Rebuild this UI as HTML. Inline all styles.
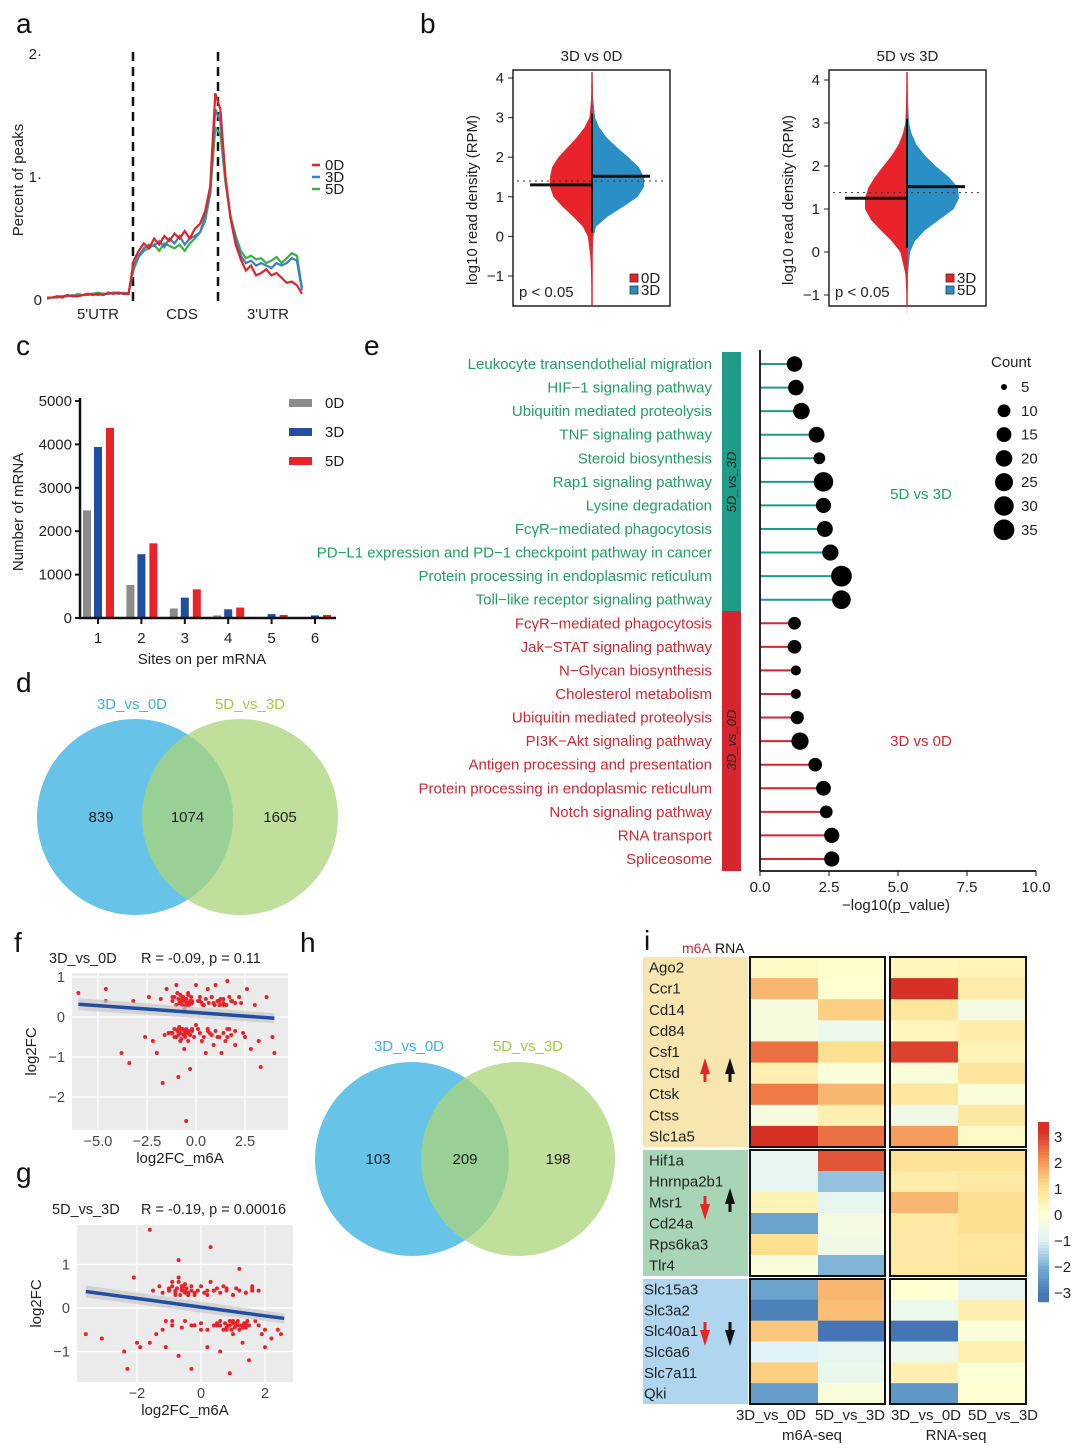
<!DOCTYPE html>
<html><head><meta charset="utf-8">
<style>
html,body{margin:0;padding:0;background:#fff;}
svg{display:block;font-family:"Liberation Sans",Arial,sans-serif;}
</style></head>
<body>
<svg id="fig" width="1080" height="1449" viewBox="0 0 1080 1449" xmlns="http://www.w3.org/2000/svg">
<g id="root"></g>
</svg>
<script>
// ---------- DATA ----------
const aRed=[0.02,0.02,0.03,0.02,0.04,0.03,0.03,0.04,0.05,0.04,0.05,0.04,0.06,0.05,0.06,0.05,0.05,0.32,0.4,0.46,0.42,0.5,0.45,0.52,0.48,0.54,0.5,0.56,0.5,0.58,0.62,0.72,0.92,1.68,1.55,1.0,0.66,0.45,0.33,0.24,0.28,0.2,0.22,0.25,0.2,0.22,0.18,0.14,0.15,0.12,0.05];
const aBlue=[0.02,0.02,0.02,0.03,0.03,0.04,0.03,0.04,0.04,0.05,0.04,0.05,0.05,0.06,0.05,0.06,0.05,0.28,0.36,0.42,0.45,0.44,0.48,0.43,0.5,0.46,0.52,0.45,0.5,0.52,0.55,0.68,0.88,1.55,1.45,0.98,0.66,0.5,0.36,0.3,0.32,0.28,0.3,0.28,0.26,0.3,0.28,0.3,0.34,0.32,0.08];
const aGreen=[0.01,0.02,0.03,0.03,0.04,0.03,0.05,0.04,0.05,0.05,0.06,0.05,0.05,0.06,0.06,0.05,0.06,0.25,0.35,0.4,0.42,0.45,0.4,0.46,0.44,0.42,0.45,0.4,0.46,0.5,0.55,0.64,0.86,1.4,1.35,0.95,0.68,0.52,0.4,0.34,0.36,0.33,0.34,0.3,0.32,0.35,0.3,0.34,0.38,0.36,0.1];
const vY=[-1.5,-1,-0.5,0,0.25,0.5,0.75,1,1.25,1.5,1.75,2,2.25,2.5,2.75,3,3.5,4];
const vL_red=[0.01,0.02,0.04,0.1,0.22,0.45,0.7,0.92,1.0,1.0,0.95,0.8,0.58,0.36,0.18,0.06,0.02,0.01];
const vL_blue=[0,0,0.01,0.03,0.08,0.3,0.6,0.88,1.0,1.0,0.9,0.7,0.48,0.28,0.14,0.06,0.02,0.01];
const vR_red=[0,0.01,0.04,0.16,0.36,0.62,0.86,1.0,1.0,0.92,0.76,0.56,0.36,0.2,0.1,0.04,0.02,0.01];
const vR_blue=[0,0.01,0.02,0.06,0.15,0.34,0.62,0.9,1.0,0.98,0.8,0.55,0.34,0.18,0.09,0.04,0.02,0.01];
const bMedL=[1.3,1.52], bMedR=[1.25,1.52], bRef=[1.4,1.38];
const cCats=["1","2","3","4","5","6"];
const c0D=[2480,760,220,60,10,10];
const c3D=[3940,1470,470,200,90,60];
const c5D=[4380,1720,660,240,70,70];
const cTicks=[0,1000,2000,3000,4000,5000];
const dVals=[839,1074,1605];
const hVals=[103,209,198];
const eTerms5=["Leukocyte transendothelial migration","HIF\u22121 signaling pathway","Ubiquitin mediated proteolysis","TNF signaling pathway","Steroid biosynthesis","Rap1 signaling pathway","Lysine degradation","Fc\u03b3R\u2212mediated phagocytosis","PD\u2212L1 expression and PD\u22121 checkpoint pathway in cancer","Protein processing in endoplasmic reticulum","Toll\u2212like receptor signaling pathway"];
const eVal5=[1.25,1.3,1.5,2.05,2.15,2.3,2.3,2.35,2.55,2.95,2.95];
const eCnt5=[17,17,20,18,8,30,16,18,19,35,27];
const eTerms3=["Fc\u03b3R\u2212mediated phagocytosis","Jak\u2212STAT signaling pathway","N\u2212Glycan biosynthesis","Cholesterol metabolism","Ubiquitin mediated proteolysis","PI3K\u2212Akt signaling pathway","Antigen processing and presentation","Protein processing in endoplasmic reticulum","Notch signaling pathway","RNA transport","Spliceosome"];
const eVal3=[1.25,1.25,1.3,1.3,1.35,1.45,2.0,2.3,2.4,2.6,2.6];
const eCnt3=[10,12,5,5,11,22,12,15,10,16,16];
const eTicks=[0,2.5,5,7.5,10];
const eLegCnt=[5,10,15,20,25,30,35];
// panel f scatter
const fX=[-6,-4.6,-4.6,-3.8,-3.4,-3.2,-2.6,-2.4,-2.2,-2.0,-1.8,-1.7,-1.5,-1.4,-1.2,-1.1,-1.0,-0.9,-0.8,-0.8,-0.7,-0.6,-0.5,-0.5,-0.4,-0.3,-0.2,-0.1,0,0.1,0.2,0.3,0.4,0.5,0.6,0.7,0.8,0.9,1.0,1.1,1.2,1.3,1.4,1.5,1.6,1.7,1.8,2.0,2.2,2.4,2.6,2.8,3.0,3.3,3.6,3.9,4.0,-1.0,-0.7,-0.6,-0.4,-0.2,0.1,-1.6,-1.3,-1.0,-0.8,-0.6,-0.4,-0.9,-0.5,0.3,0.9,1.4,-0.3,-0.8,0.6,1.2,1.6,2.3,0.0,
 -1.2,-1.1,-1.0,-0.95,-0.9,-0.85,-0.8,-0.75,-0.7,-0.65,-0.6,-0.55,-0.5,-0.45,-0.4,-0.35,-0.3,-0.25,-0.2,0.2,0.35,0.5,0.65,0.8,0.95,1.1,1.25,1.4,1.55,1.7,1.85,2.0,
 -1.2,-1.1,-1.0,-0.95,-0.9,-0.85,-0.8,-0.75,-0.7,-0.65,-0.6,-0.55,-0.5,-0.45,-0.4,-0.35,-0.3,-0.2,0.2,0.4,0.6,0.8,1.0,1.2,1.4,1.6,1.8,2.0,2.5,3.2];
const fY=[0.6,0.7,0.4,-0.9,-1.15,0.4,-0.5,0.5,-0.6,-0.9,0.45,-1.65,0.7,-0.4,0.5,-0.5,0.8,-0.3,0.4,-0.6,0.5,-0.8,0.3,-0.4,0.6,-1.3,0.4,-0.5,0.8,-0.3,0.5,-0.6,0.3,-0.9,0.7,-0.4,0.5,-0.7,0.8,-0.5,0.4,-0.9,0.3,-0.6,0.9,-0.3,0.4,-0.7,0.5,-0.4,0.7,-0.8,0.3,-1.25,0.5,-0.5,-0.9,0.3,0.45,0.2,0.35,-0.35,0.4,-0.45,-0.4,-0.5,-0.3,-0.45,-0.35,-1.5,-2.6,0.35,0.35,0.45,-0.45,0.4,-0.35,0.3,-0.5,0.35,-0.2,
 0.4,0.5,0.3,0.6,0.45,0.35,0.55,0.4,0.3,0.5,0.4,0.25,0.45,0.35,0.55,0.3,0.4,0.5,0.35,0.4,0.3,0.45,0.35,0.5,0.3,0.4,0.45,0.35,0.3,0.5,0.4,0.35,
 -0.4,-0.3,-0.5,-0.35,-0.45,-0.25,-0.4,-0.55,-0.3,-0.45,-0.35,-0.5,-0.3,-0.4,-0.6,-0.35,-0.45,-0.3,-0.4,-0.5,-0.3,-0.45,-0.35,-0.5,-0.4,-0.3,-0.45,-0.35,-0.5,-0.6];
const fLine=[0.11,-0.035];
// panel g scatter
const gX=[-3.6,-3.1,-2.4,-2.3,-2.1,-2.0,-1.9,-1.6,-1.6,-1.5,-1.4,-1.3,-1.2,-1.1,-1.0,-0.9,-0.9,-0.8,-0.7,-0.7,-0.6,-0.5,-0.5,-0.4,-0.3,-0.3,-0.2,-0.1,0.0,0.1,0.2,0.3,0.3,0.4,0.5,0.6,0.7,0.8,0.8,0.9,1.0,1.0,1.1,1.2,1.2,1.3,1.4,1.4,1.5,1.6,1.7,1.8,1.9,2.0,2.2,2.4,2.5,-1.2,-1.0,-0.8,-0.6,-0.4,0.5,0.9,1.1,1.3,-0.6,-0.5,-0.2,0.6,0.8,1.4,1.6,-0.7,0.4,1.0,-1.1,0.2,
 -1.0,-0.9,-0.8,-0.75,-0.7,-0.65,-0.6,-0.55,-0.5,-0.45,-0.4,-0.3,-0.2,0.0,0.2,0.4,0.6,0.8,1.0,1.2,1.4,1.6,
 0.5,0.6,0.7,0.75,0.8,0.85,0.9,0.95,1.0,1.05,1.1,1.15,1.2,1.3,1.35,1.4,1.45,1.5,0.2,0.0,-0.3,-0.6,-0.9,1.8,2.0];
const gY=[-0.6,-0.7,-1.0,-1.4,0.7,-0.8,-0.9,-0.8,1.8,0.4,-0.6,0.5,-0.5,-0.9,0.45,0.6,-0.4,0.4,1.1,-1.1,0.5,0.4,-0.3,0.3,-1.4,0.5,-0.4,0.4,-0.5,0.35,-0.9,0.6,1.4,-0.4,0.45,-1.0,0.5,-0.5,0.4,-1.5,0.3,-0.6,0.45,-0.4,0.9,-0.8,0.35,-0.4,-1.2,0.5,-0.3,0.4,-0.6,-0.9,-0.7,-0.5,-0.6,0.35,0.4,0.3,0.5,0.35,-0.35,-0.4,-0.35,-0.45,0.45,0.55,0.3,-0.4,-0.45,-0.35,0.4,0.7,0.4,-0.3,-0.3,0.4,
 0.4,0.5,0.35,0.45,0.6,0.3,0.4,0.5,0.35,0.45,0.3,0.4,0.35,0.5,0.3,0.4,0.35,0.45,0.3,0.4,0.35,0.45,
 -0.4,-0.3,-0.5,-0.35,-0.45,-0.4,-0.3,-0.5,-0.35,-0.45,-0.4,-0.3,-0.5,-0.4,-0.35,-0.45,-0.3,-0.4,-0.5,-0.35,-0.4,-0.45,-0.3,-0.4,-0.5];
const gLine=[0.02,-0.1];
// panel i heatmap
const iGenes=["Ago2","Ccr1","Cd14","Cd84","Csf1","Ctsd","Ctsk","Ctss","Slc1a5","Hif1a","Hnrnpa2b1","Msr1","Cd24a","Rps6ka3","Tlr4","Slc15a3","Slc3a2","Slc40a1","Slc6a6","Slc7a11","Qki"];
const iM6A_3v0=[0.2,1.5,-0.3,-0.3,2.3,0.5,2.2,-0.3,3.3,-0.8,-0.8,0.4,-2.2,1.0,-0.2,-2.2,-2.8,1.3,-1.0,1.2,-2.3];
const iM6A_5v3=[0.1,0,1.2,-0.6,1.0,-0.2,1.5,0.5,2.3,2.6,-1.7,-0.8,-0.4,-0.5,-1.9,1.5,1.4,-3.0,-0.8,-0.7,-0.2];
const iRNA_3v0=[0.3,3.3,0.8,0.3,2.8,-0.2,0.8,-0.5,1.8,0.9,0.6,1.5,0.7,0.7,0.7,0.0,-0.6,-3.0,-0.6,0.5,-2.4];
const iRNA_5v3=[0.4,0.6,-0.4,0.6,0.4,0.8,-0.2,0.7,0.2,0.9,0.7,1.0,1.0,0.8,0.8,-0.8,0.5,-0.2,0.5,-0.1,0.0];
const iTicks=[3,2,1,0,-1,-2,-3];

// ---------- HELPERS ----------
const NS="http://www.w3.org/2000/svg";
const root=document.getElementById('root');
function mk(tag,attrs,parent,txt){const e=document.createElementNS(NS,tag);for(const k in attrs)e.setAttribute(k,attrs[k]);if(txt!==undefined)e.textContent=txt;(parent||root).appendChild(e);return e;}
function T(x,y,s,size,fill,anchor,parent,extra){return mk('text',Object.assign({x:x,y:y,'font-size':size,fill:fill||'#222','text-anchor':anchor||'start'},extra||{}),parent,s);}
function G(name){const g=mk('g',{});return g;}

[["a",16,33],["b",420,33],["c",16,355],["e",364,355],["d",16,692],["f",14,952],["g",16,1182],["h",300,952],["i",644,950]].forEach(p=>{
 const t=T(p[1],p[2],p[0],28,'#111','start');
});

// ---------- PANEL A ----------
(function(){
 const g=G('panel-a-metagene');
 const x0=47,x1=302,y0=300,yTop=54;
 const sx=i=>x0+(x1-x0)*i/50, sy=v=>y0-(y0-yTop)*v/2;
 [[0,'0'],[1,'1'],[2,'2']].forEach(t=>{const e=T(42,sy(t[0])+5,t[1]+(t[0]?'·':''),15,'#222','end',g);});
 const yl=T(0,0,'Percent of peaks',15,'#222','middle',g,{transform:'translate(23,180) rotate(-90)'});
 
 [133,218].forEach(x=>{const l=mk('line',{x1:x,x2:x,y1:52,y2:302,stroke:'#111','stroke-width':2.5,'stroke-dasharray':'9,6'},g);});
 [[aGreen,'#3cae48'],[aBlue,'#3a7fc1'],[aRed,'#e0242a']].forEach(s=>{
   const p=mk('polyline',{points:s[0].map((v,i)=>sx(i)+','+sy(v)).join(' '),fill:'none',stroke:s[1],'stroke-width':2.2},g);
   
 });
 [['5\'UTR',98],['CDS',182],['3\'UTR',268]].forEach(t=>{const e=T(t[1],319,t[0],15,'#222','middle',g);});
 [['0D','#e0242a',170],['3D','#3a7fc1',182],['5D','#3cae48',194]].forEach(t=>{
   const l=mk('line',{x1:312,x2:320,y1:t[2]-5,y2:t[2]-5,stroke:t[1],'stroke-width':2.5},g);
   const e=T(325,t[2],t[0],15,'#222','start',g);
 });
})();

// ---------- PANEL B ----------
function violin(name,bx0,bx1,cx,yAt,ticks,title,left,right,med,ref,labs){
 const g=G(name);
 const sy=v=>yAt[0]+(yAt[1]-yAt[0])*(v-(-1))/(4-(-1));
 const t=T((bx0+bx1)/2,61,title,15,'#222','middle',g);
 const box=mk('rect',{x:bx0,y:70,width:bx1-bx0,height:236,fill:'none',stroke:'#222','stroke-width':1.5},g);
 ticks.forEach(v=>{mk('line',{x1:bx0-5,x2:bx0,y1:sy(v),y2:sy(v),stroke:'#222'},g);
  const e=T(bx0-9,sy(v)+5,v<0?'\u22121':String(v),15,'#222','end',g);});
 const yl=T(0,0,'log10 read density (RPM)',15,'#222','middle',g,{transform:`translate(${bx0-36},200) rotate(-90)`});
 
 const W=42;
 const lp=vY.map((y,i)=>(cx-left[i]*W)+','+sy(y)).join(' ');
 const rp=vY.map((y,i)=>(cx+right[i]*(W+10))+','+sy(y)).join(' ');
 const a=mk('polygon',{points:cx+','+sy(vY[0])+' '+lp+' '+cx+','+sy(vY[vY.length-1]),fill:'#e8232a'},g);
 const b=mk('polygon',{points:cx+','+sy(vY[0])+' '+rp+' '+cx+','+sy(vY[vY.length-1]),fill:'#2a8fc4'},g);
 mk('line',{x1:cx,x2:cx,y1:72,y2:306,stroke:'#e8232a','stroke-width':1.5},g);
 mk('line',{x1:cx,x2:cx,y1:sy(0.1),y2:sy(3.1),stroke:'#111','stroke-width':2},g);
 const r=mk('line',{x1:bx0+4,x2:bx1-4,y1:sy(ref),y2:sy(ref),stroke:'#333','stroke-dasharray':'2,4'},g);
 const m1=mk('line',{x1:cx-62,x2:cx,y1:sy(med[0]),y2:sy(med[0]),stroke:'#111','stroke-width':3},g);
 const m2=mk('line',{x1:cx,x2:cx+58,y1:sy(med[1]),y2:sy(med[1]),stroke:'#111','stroke-width':3},g);
 const p=T(bx0+6,297,'p < 0.05',15,'#222','start',g);
 [[labs[0],'#e8232a',282],[labs[1],'#2a8fc4',294]].forEach(l=>{
  const s=mk('rect',{x:bx1-40,y:l[2]-8,width:8,height:8,fill:l[1],stroke:'#333','stroke-width':0.8},g);
  const e=T(bx1-29,l[2]+1,l[0],15,'#222','start',g);
 });
}
violin('panel-b-3d-vs-0d',513,670,592,[276,78],[-1,0,1,2,3,4],'3D vs 0D',vL_red,vL_blue,bMedL,bRef[0],['0D','3D']);
violin('panel-b-5d-vs-3d',829,986,907,[295,80],[-1,0,1,2,3,4],'5D vs 3D',vR_red,vR_blue,bMedR,bRef[1],['3D','5D']);

// ---------- PANEL C ----------
(function(){
 const g=G('panel-c-bar-chart');
 const ax=80,y0=618,yT=401;const sy=v=>y0-(y0-yT)*v/5000;
 const gx=i=>98+i*43.4;
 cTicks.forEach(v=>{mk('line',{x1:ax-5,x2:ax,y1:sy(v),y2:sy(v),stroke:'#111','stroke-width':2},g);
  const e=T(ax-8,sy(v)+5,String(v),15,'#222','end',g);});
 [[c0D,'#8c8c8c',-11],[c3D,'#1f4ea3',0],[c5D,'#e8232a',12]].forEach(s=>{
  s[0].forEach((v,i)=>{const r=mk('rect',{x:gx(i)+s[2]-4,y:sy(v),width:8,height:y0-sy(v),fill:s[1]},g);
   });
 });
 mk('line',{x1:ax,x2:ax,y1:398,y2:y0+1,stroke:'#111','stroke-width':2.5},g);
 mk('line',{x1:ax-1,x2:336,y1:y0,y2:y0,stroke:'#111','stroke-width':2.5},g);
 cCats.forEach((c,i)=>{mk('line',{x1:gx(i),x2:gx(i),y1:y0,y2:y0+6,stroke:'#111','stroke-width':2},g);
  const e=T(gx(i),643,c,15,'#222','middle',g);});
 const xt=T(202,664,'Sites on per mRNA',15,'#222','middle',g);
 const yt=T(0,0,'Number of mRNA',15,'#222','middle',g,{transform:'translate(23,512) rotate(-90)'});
 [['0D','#8c8c8c',403],['3D','#1f4ea3',432],['5D','#e8232a',461]].forEach(l=>{
  const s=mk('rect',{x:289,y:l[2]-4,width:23,height:8,fill:l[1]},g);
  const e=T(325,l[2]+5,l[0],15,'#222','start',g);});
})();

// ---------- VENNS ----------
function venn(name,c1,c2,r,vals,ly){
 const g=G(name);
 const a=mk('circle',{cx:c1[0],cy:c1[1],r:r,fill:'#4db8e4','fill-opacity':0.85},g);
 const b=mk('circle',{cx:c2[0],cy:c2[1],r:r,fill:'#a9d47a','fill-opacity':0.75},g);
 const t1=T(c1[0]-3,ly,'3D_vs_0D',15,'#3ab0e0','middle',g);
 const t2=T(c2[0]+10,ly,'5D_vs_3D',15,'#a6c940','middle',g);
 const mx=(c1[0]+c2[0])/2;
 [[c1[0]-34,vals[0]],[mx,vals[1]],[c2[0]+40,vals[2]]].forEach(v=>{const e=T(v[0],c1[1]+5,String(v[1]),15,'#222','middle',g);});
}
venn('panel-d-venn',[135,817],[240,817],98,dVals,709);
venn('panel-h-venn',[412,1159],[518,1159],97,hVals,1051);

// ---------- PANEL E ----------
(function(){
 const g=G('panel-e-lollipop');
 const ax=760,sx=v=>ax+v*27.6;
 const rowY=i=>364+i*23.57;
 const rad=c=>1.8+Math.sqrt(c)*1.45;
 const gb=mk('rect',{x:722,y:352,width:19,height:259,fill:'#1f9c88'},g);
 const rb=mk('rect',{x:722,y:611,width:19,height:260,fill:'#d7252f'},g);
 T(0,0,'5D_vs_3D',13,'#222','middle',g,{transform:'translate(736,482) rotate(-90)','font-style':'italic'});
 T(0,0,'3D_vs_0D',13,'#222','middle',g,{transform:'translate(736,740) rotate(-90)','font-style':'italic'});
 const all=eTerms5.map((t,i)=>[t,eVal5[i],eCnt5[i],'#1f9c88','#21a063']).concat(eTerms3.map((t,i)=>[t,eVal3[i],eCnt3[i],'#d7252f','#d7252f']));
 all.forEach((d,i)=>{
  const y=rowY(i);
  const e=T(712,y+5,d[0],15,d[4],'end',g);
  const l=mk('line',{x1:ax,x2:sx(d[1]),y1:y,y2:y,stroke:d[3],'stroke-width':2},g);
  const c=mk('circle',{cx:sx(d[1]),cy:y,r:rad(d[2]),fill:'#000'},g);
 });
 mk('line',{x1:ax,x2:ax,y1:350,y2:871,stroke:'#111','stroke-width':1.8},g);
 mk('line',{x1:ax,x2:sx(10),y1:871,y2:871,stroke:'#111','stroke-width':1.8},g);
 eTicks.forEach(v=>{mk('line',{x1:sx(v),x2:sx(v),y1:871,y2:876,stroke:'#111'},g);
  const e=T(sx(v),892,v.toFixed(1),15,'#222','middle',g);});
 const xt=T(896,910,'\u2212log10(p_value)',15,'#222','middle',g);
 const s1=T(921,499,'5D vs 3D',15,'#21a063','middle',g);
 const s2=T(921,746,'3D vs 0D',15,'#d7252f','middle',g);
 const lt=T(1011,367,'Count',15,'#222','middle',g);
 eLegCnt.forEach((c,i)=>{const y=387+i*23.8;
  const d=mk('circle',{cx:1004,cy:y,r:rad(c)*(c===5?0.6:1),fill:'#000'},g);
  const e=T(1021,y+5,String(c),15,'#222','start',g);});
})();

// ---------- PANELS F, G ----------
function scatter(name,box,xTicks,yTicks,xMap,yMap,xs,ys,line,xr,title,stat,dec){
 const g=G(name);
 const bg=mk('rect',{x:box[0],y:box[1],width:box[2]-box[0],height:box[3]-box[1],fill:'#ebebeb'},g);
 xTicks.forEach(v=>mk('line',{x1:xMap(v),x2:xMap(v),y1:box[1],y2:box[3],stroke:'#fff','stroke-width':1.2},g));
 yTicks.forEach(v=>mk('line',{x1:box[0],x2:box[2],y1:yMap(v),y2:yMap(v),stroke:'#fff','stroke-width':1.2},g));
 xTicks.forEach(v=>{const s=Math.abs(v).toFixed(dec);const e=T(xMap(v),box[3]+16,(v<0?'\u2212':'')+s,14.5,'#444','middle',g);});
 yTicks.forEach(v=>{const e=T(box[0]-7,yMap(v)+5,v<0?'\u2212'+Math.abs(v):String(v),14.5,'#444','end',g);});
 xs.forEach((x,i)=>{const c=mk('circle',{cx:xMap(x),cy:yMap(ys[i]),r:2,fill:'#e8232a'},g);});
 const yA=line[0]+line[1]*xr[0],yB=line[0]+line[1]*xr[1];
 mk('polygon',{points:`${xMap(xr[0])},${yMap(yA)-6} ${xMap(xr[1])},${yMap(yB)-5} ${xMap(xr[1])},${yMap(yB)+5} ${xMap(xr[0])},${yMap(yA)+6}`,fill:'#c8c8c8','fill-opacity':0.7},g);
 const rl=mk('line',{x1:xMap(xr[0]),y1:yMap(yA),x2:xMap(xr[1]),y2:yMap(yB),stroke:'#1f4ea3','stroke-width':3.5},g);
 const xt=T((box[0]+box[2])/2,box[3]+33,'log2FC_m6A',15,'#222','middle',g);
 const yt=T(0,0,'log2FC',15,'#222','middle',g,{transform:`translate(${box[0]-36},${(box[1]+box[3])/2}) rotate(-90)`});
 const t1=T(title[1],title[2],title[0],14.5,'#222','start',g);
 const t2=T(stat[1],title[2],stat[0],14.5,'#222','start',g);
}
scatter('panel-f-scatter',[72,973,288,1130],[-5,-2.5,0,2.5],[1,0,-1,-2],x=>196+x*19.6,y=>1017-y*40,fX,fY,fLine,[-6,4],['3D_vs_0D',49,963],['R = -0.09, p = 0.11',141],1);
scatter('panel-g-scatter',[77,1225,293,1382],[-2,0,2],[1,0,-1],x=>201+x*32,y=>1308-y*43.5,gX,gY,gLine,[-3.6,2.6],['5D_vs_3D',52,1214],['R = -0.19, p = 0.00016',141],0);

// ---------- PANEL I ----------
(function(){
 const g=G('panel-i-heatmap');
 const stops=[[-3,[69,117,180]],[-2,[116,173,209]],[-1,[224,243,248]],[0,[255,255,210]],[1,[254,224,144]],[2,[244,140,80]],[3,[215,48,39]]];
 function col(v){v=Math.max(-3,Math.min(3,v));for(let i=0;i<stops.length-1;i++){const a=stops[i],b=stops[i+1];if(v<=b[0]){const t=(v-a[0])/(b[0]-a[0]);return 'rgb('+a[1].map((c,k)=>Math.round(c+(b[1][k]-c)*t)).join(',')+')';}}return 'rgb(215,48,39)';}
 const groups=[[0,9,957,1147,'#f8e6b0'],[9,6,1150,1276,'#a8d5b6'],[15,6,1279,1404,'#b0d6ef']];
 const cols=[[iM6A_3v0,751],[iM6A_5v3,818],[iRNA_3v0,891],[iRNA_5v3,958]];
 const m6=T(682,953,'m6A',14,'#d7252f','start',g);
 const rn=T(715,953,'RNA',14,'#111','start',g);
 groups.forEach((gr,gi)=>{
  const h=(gr[3]-gr[2])/gr[1];
  const bg=mk('rect',{x:643,y:gr[2],width:105,height:gr[3]-gr[2],fill:gr[4]},g);
  for(let k=0;k<gr[1];k++){const r=gr[0]+k,y=gr[2]+k*h;
   const e=T(gi===2?644:649,y+h/2+5,iGenes[r],15,'#222','start',g);
   cols.forEach(c=>{const cell=mk('rect',{x:c[1],y:y,width:67.5,height:h+0.5,fill:col(c[0][r])},g);});
  }
  mk('rect',{x:750,y:gr[2],width:135,height:gr[3]-gr[2],fill:'none',stroke:'#111','stroke-width':2},g);
  mk('rect',{x:890,y:gr[2],width:136,height:gr[3]-gr[2],fill:'none',stroke:'#111','stroke-width':2},g);
 });
 function arrow(x,y,up,c){const d=up?`M${x-5},${y} L${x},${y-16} L${x+5},${y} L${x+1.5},${y} L${x+1.5},${y+8} L${x-1.5},${y+8} L${x-1.5},${y}Z`:`M${x-5},${y} L${x},${y+16} L${x+5},${y} L${x+1.5},${y} L${x+1.5},${y-8} L${x-1.5},${y-8} L${x-1.5},${y}Z`;
  const a=mk('path',{d:d,fill:c},g);}
 arrow(705,1074,true,'#e8232a');arrow(730,1074,true,'#111');
 arrow(705,1204,false,'#e8232a');arrow(730,1204,true,'#111');
 arrow(705,1330,false,'#e8232a');arrow(730,1330,false,'#111');
 [['3D_vs_0D',771],['5D_vs_3D',850],['3D_vs_0D',926],['5D_vs_3D',1003]].forEach(c=>{const e=T(c[1],1420,c[0],15,'#222','middle',g);});
 const s1=T(812,1440,'m6A-seq',15,'#222','middle',g);
 const s2=T(956,1440,'RNA-seq',15,'#222','middle',g);
 const cb=mk('g',{},g);
 for(let k=0;k<60;k++){const v=3.3-k*6.6/60;mk('rect',{x:1038,y:1122+k*3,width:11,height:3.2,fill:col(v)},cb);}
 iTicks.forEach(v=>{const y=1215-v*26;const e=T(1054,y+5,v<0?'\u2212'+Math.abs(v):String(v),15,'#222','start',cb);});
})();
</script>
</body></html>
